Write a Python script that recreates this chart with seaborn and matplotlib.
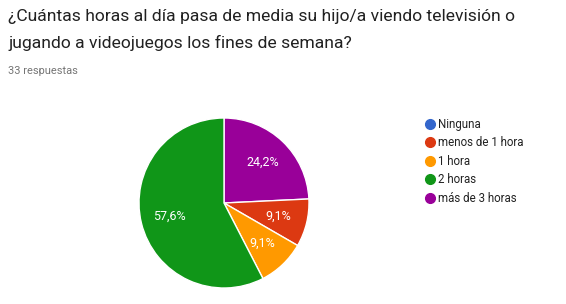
import matplotlib
matplotlib.use("Agg")
import matplotlib.pyplot as plt
from matplotlib.lines import Line2D
import seaborn as sns

# data (33 respuestas)
categories = ["Ninguna", "menos de 1 hora", "1 hora", "2 horas", "más de 3 horas"]
counts = [0, 3, 3, 19, 8]
colors = ["#3366cc", "#dc3912", "#ff9900", "#109618", "#990099"]
# order the slices are drawn clockwise from 12 o'clock
draw_order = [4, 1, 2, 3]

title = "¿Cuántas horas al día pasa de media su hijo/a viendo televisión o\njugando a videojuegos los fines de semana?"
subtitle = "33 respuestas"

sns.set_theme(style="white")
plt.rcParams["font.family"] = ["Roboto", "DejaVu Sans"]

W, H = 566, 304
fig = plt.figure(figsize=(W / 100, H / 100), dpi=100)
fig.patch.set_facecolor("white")

fig.text(8 / W, 1 - 9 / H, title, ha="left", va="top", fontsize=12.6,
         color="#212121", linespacing=1.85)
fig.text(8 / W, 1 - 71 / H, subtitle, ha="left", va="center", fontsize=7.9,
         color="#757575")

# pie
cx, cy, r = 224, 203, 85
ax = fig.add_axes([(cx - r) / W, (H - cy - r) / H, 2 * r / W, 2 * r / H])
vals = [counts[i] for i in draw_order]
cols = [colors[i] for i in draw_order]
wedges, texts, autotexts = ax.pie(
    vals, colors=cols, startangle=90, counterclock=False,
    autopct=lambda p: f"{p:.1f}%".replace(".", ","), pctdistance=0.66,
    wedgeprops=dict(edgecolor="white", linewidth=1),
    textprops=dict(color="white", fontsize=9), radius=1)
ax.set_xlim(-1.0, 1.0)
ax.set_ylim(-1.0, 1.0)
ax.set_aspect("equal")
ax.axis("off")

# legend
handles = [Line2D([0], [0], marker="o", linestyle="", markersize=7,
                  markerfacecolor=c, markeredgecolor=c) for c in colors]
fig.legend(handles, categories, loc="upper left",
           bbox_to_anchor=(419 / W, 1 - 113 / H), frameon=False,
           fontsize=8.3, handletextpad=0.15, labelspacing=0.48,
           borderaxespad=0, handlelength=1.1, labelcolor="#222222")

fig.savefig("out.png", dpi=100)
